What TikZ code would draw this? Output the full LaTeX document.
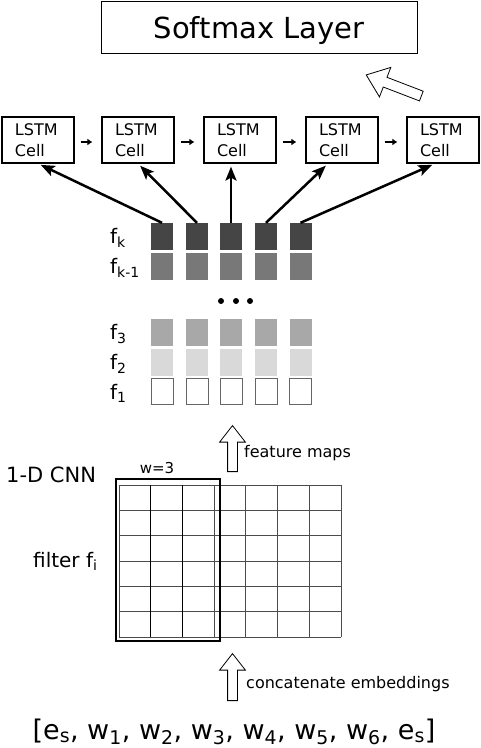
\documentclass[tikz,border=0pt]{standalone}
\usepackage{fontspec}
\setmainfont{DejaVu Sans}
\usetikzlibrary{shapes.arrows,arrows.meta}

\definecolor{fkcol}{gray}{0.27}
\definecolor{fkmcol}{gray}{0.47}
\definecolor{fthreecol}{gray}{0.66}
\definecolor{ftwocol}{gray}{0.85}

\tikzset{
  lstm/.style={draw=black, line width=1.2pt, minimum height=46pt, text width=46pt,
    inner xsep=13pt, align=left, font=\fontsize{16}{21}\selectfont},
  fmap/.style={minimum width=22pt, minimum height=27pt, inner sep=0pt},
  flabel/.style={anchor=west, inner sep=0pt, font=\fontsize{20}{24}\selectfont},
  dot/.style={circle, fill=black, inner sep=0pt, minimum size=6pt},
  hollow/.style={single arrow, draw=black, line width=0.8pt, fill=white, inner sep=4.5pt,
    single arrow head extend=8pt, single arrow tip angle=76, anchor=tail},
  feed/.style={-{Stealth[length=14pt,width=11pt,inset=3pt]}, line width=2.5pt, shorten >=3pt},
  recur/.style={-{Latex[length=5pt,width=7pt]}, line width=2.4pt, shorten <=6pt, shorten >=9pt},
  gridline/.style={draw=black!70, line width=0.9pt},
}

\begin{document}
\begin{tikzpicture}[x=1pt,y=-1pt]
            \useasboundingbox (0,0) rectangle (480,748);

            % output layer
            \node[draw=black, line width=0.9pt, minimum width=316pt, minimum height=52pt,
              text depth=0pt, font=\fontsize{29}{34}\selectfont] (softmax) at (259,27) {Softmax Layer};
            \node[hollow, minimum height=59pt, inner sep=4.8pt, single arrow head extend=10.6pt,
              rotate=159] (toout) at (421.7,96.2) {};

            % recurrent layer
            \node[lstm] (c1) at (38,140) {LSTM\\Cell};
            \node[lstm] (c2) at (138,140) {LSTM\\Cell};
            \node[lstm] (c3) at (240,140) {LSTM\\Cell};
            \node[lstm] (c4) at (342,140) {LSTM\\Cell};
            \node[lstm] (c5) at (443,140) {LSTM\\Cell};

            \draw[recur] ([yshift=-2pt]c1.east) -- ([yshift=-2pt]c2.west);
            \draw[recur] ([yshift=-2pt]c2.east) -- ([yshift=-2pt]c3.west);
            \draw[recur] ([yshift=-2pt]c3.east) -- ([yshift=-2pt]c4.west);
            \draw[recur] ([yshift=-2pt]c4.east) -- ([yshift=-2pt]c5.west);

            % feature maps
            \node[fmap, fill=fkcol] (fk1) at (162,236.5) {};
            \node[fmap, fill=fkcol] (fk2) at (197,236.5) {};
            \node[fmap, fill=fkcol] (fk3) at (231,236.5) {};
            \node[fmap, fill=fkcol] (fk4) at (266,236.5) {};
            \node[fmap, fill=fkcol] (fk5) at (300.5,236.5) {};

            \node[fmap, fill=fkmcol] (fkm1) at (162,266) {};
            \node[fmap, fill=fkmcol] (fkm2) at (197,266) {};
            \node[fmap, fill=fkmcol] (fkm3) at (231,266) {};
            \node[fmap, fill=fkmcol] (fkm4) at (266,266) {};
            \node[fmap, fill=fkmcol] (fkm5) at (300.5,266) {};

            \node[dot] (d1) at (221,301) {};
            \node[dot] (d2) at (236,301) {};
            \node[dot] (d3) at (250,301) {};

            \node[fmap, fill=fthreecol] (fc1) at (162,332) {};
            \node[fmap, fill=fthreecol] (fc2) at (197,332) {};
            \node[fmap, fill=fthreecol] (fc3) at (231,332) {};
            \node[fmap, fill=fthreecol] (fc4) at (266,332) {};
            \node[fmap, fill=fthreecol] (fc5) at (300.5,332) {};

            \node[fmap, fill=ftwocol] (fb1) at (162,362) {};
            \node[fmap, fill=ftwocol] (fb2) at (197,362) {};
            \node[fmap, fill=ftwocol] (fb3) at (231,362) {};
            \node[fmap, fill=ftwocol] (fb4) at (266,362) {};
            \node[fmap, fill=ftwocol] (fb5) at (300.5,362) {};

            \node[fmap, draw=black!60, minimum height=26pt] (fa1) at (162,391) {};
            \node[fmap, draw=black!60, minimum height=26pt] (fa2) at (197,391) {};
            \node[fmap, draw=black!60, minimum height=26pt] (fa3) at (231,391) {};
            \node[fmap, draw=black!60, minimum height=26pt] (fa4) at (266,391) {};
            \node[fmap, draw=black!60, minimum height=26pt] (fa5) at (300.5,391) {};

            \node[flabel] (lk) at (110,238) {f\textsubscript{k}};
            \node[flabel] (lkm) at (110,268) {f\textsubscript{k-1}};
            \node[flabel] (lthree) at (110,334) {f\textsubscript{3}};
            \node[flabel] (ltwo) at (110,364) {f\textsubscript{2}};
            \node[flabel] (lone) at (110,393) {f\textsubscript{1}};

            \draw[feed] (fk1.north) -- (c1.south);
            \draw[feed] (fk2.north) -- (c2.south);
            \draw[feed] (fk3.north) -- (fk3.north |- c3.south);
            \draw[feed] (fk4.north) -- ([xshift=-14pt]c4.south);
            \draw[feed] (fk5.north) -- ([xshift=-8pt]c5.south);

            % convolution
            \node[hollow, minimum height=46pt, rotate=90] (tofeat) at (232.5,472) {};
            \node[anchor=west, inner sep=0pt, font=\fontsize{16}{19}\selectfont] (featlabel) at (244,453) {feature maps};

            \node[anchor=west, inner sep=0pt, font=\fontsize{21}{25}\selectfont] (cnn) at (6,474.5) {1-D CNN};
            \node[anchor=base west, inner sep=0pt, font=\fontsize{20}{24}\selectfont] (filterlabel) at (33,567) {filter f\textsubscript{i}};
            \node[inner sep=0pt, font=\fontsize{15}{18}\selectfont] (width) at (157,468) {w=3};

            \foreach \i in {0,...,7}
              \draw[gridline] ({119+\i*31.714},485) -- ({119+\i*31.714},637);
            \foreach \j in {0,...,6}
              \draw[gridline] (119,{485+\j*25.333}) -- (341,{485+\j*25.333});
            \foreach \i in {1,2}
              \draw[line width=0.9pt] ({119+\i*31.714},485) -- ({119+\i*31.714},637);

            \node[draw=black, line width=2pt, minimum width=104pt, minimum height=162pt] (filter) at (168,560) {};

            % input
            \node[hollow, minimum height=47pt, rotate=90] (toemb) at (232.5,701) {};
            \node[anchor=west, inner sep=0pt, font=\fontsize{16}{19}\selectfont] (emblabel) at (246,684) {concatenate embeddings};

            \node[anchor=base, inner sep=0pt, font=\fontsize{27}{32}\selectfont] (words) at (234,739)
              {[e\textsubscript{s}, w\textsubscript{1}, w\textsubscript{2}, w\textsubscript{3}, w\textsubscript{4}, w\textsubscript{5}, w\textsubscript{6}, e\textsubscript{s}]};
        \end{tikzpicture}
\end{document}
